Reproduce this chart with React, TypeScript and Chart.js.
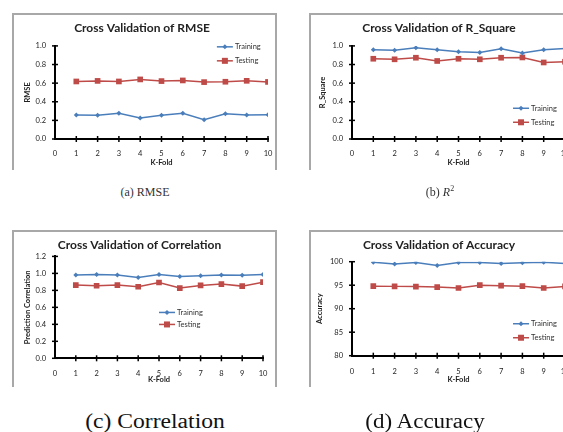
import { useEffect, useRef } from "react";
import { Chart, registerables } from "chart.js";

Chart.register(...registerables);

// ---- data ----
const folds = [1, 2, 3, 4, 5, 6, 7, 8, 9, 10];
const seriesNames = ["Training", "Testing"];

const rmseTraining = [0.258, 0.254, 0.276, 0.225, 0.254, 0.276, 0.208, 0.272, 0.258, 0.26];
const rmseTesting = [0.618, 0.624, 0.618, 0.64, 0.622, 0.629, 0.611, 0.615, 0.625, 0.613];

const r2Training = [0.958, 0.954, 0.98, 0.958, 0.936, 0.928, 0.97, 0.923, 0.958, 0.972];
const r2Testing = [0.862, 0.856, 0.873, 0.838, 0.862, 0.856, 0.873, 0.876, 0.822, 0.83];

const corrTraining = [0.98, 0.986, 0.98, 0.952, 0.988, 0.962, 0.972, 0.982, 0.978, 0.988];
const corrTesting = [0.862, 0.854, 0.862, 0.843, 0.893, 0.827, 0.858, 0.874, 0.85, 0.897];

const accTraining = [99.9, 99.5, 99.85, 99.2, 99.85, 99.85, 99.6, 99.8, 99.9, 99.6];
const accTesting = [94.8, 94.75, 94.7, 94.6, 94.4, 95.0, 94.9, 94.8, 94.4, 94.75];

const titles = [
  "Cross Validation of RMSE",
  "Cross Validation of R_Square",
  "Cross Validation of Correlation",
  "Cross Validation of Accuracy",
];
const yTitles = ["RMSE", "R_Square", "Prediction Correlation", "Accuracy"];
const xTitle = "K-Fold";

const TRAIN_COLOR = "#4A7EBB";
const TEST_COLOR = "#BE4B48";
const FONT = "Lato";

// ---- plugins ----
const crossTicks = {
  id: "crossTicks",
  beforeDatasetsDraw(chart: any) {
    const { ctx, chartArea, scales } = chart;
    const x = scales.x;
    const y = scales.y;
    ctx.save();
    ctx.strokeStyle = "#000";
    ctx.lineWidth = 1.5;
    y.ticks.forEach((t: any) => {
      const py = y.getPixelForValue(t.value);
      ctx.beginPath();
      ctx.moveTo(chartArea.left - 3, py);
      ctx.lineTo(chartArea.left + 3, py);
      ctx.stroke();
    });
    x.ticks.forEach((t: any) => {
      if (t.value === 0) return;
      const px = x.getPixelForValue(t.value);
      ctx.beginPath();
      ctx.moveTo(px, chartArea.bottom - 3);
      ctx.lineTo(px, chartArea.bottom + 3);
      ctx.stroke();
    });
    ctx.restore();
  },
};

function drawMarker(ctx: CanvasRenderingContext2D, style: string, x: number, y: number, r: number) {
  ctx.beginPath();
  if (style === "rectRot") {
    ctx.moveTo(x, y - r);
    ctx.lineTo(x + r, y);
    ctx.lineTo(x, y + r);
    ctx.lineTo(x - r, y);
    ctx.closePath();
  } else {
    ctx.rect(x - r * 0.75, y - r * 0.75, r * 1.5, r * 1.5);
  }
  ctx.fill();
}

const innerLegend = {
  id: "innerLegend",
  afterDatasetsDraw(chart: any, _args: any, opts: any) {
    const { ctx, chartArea } = chart;
    const x0 = chartArea.left + opts.fx * (chartArea.right - chartArea.left);
    const y0 = chartArea.top + opts.fy * (chartArea.bottom - chartArea.top);
    ctx.save();
    chart.data.datasets.forEach((ds: any, i: number) => {
      const yy = y0 + i * opts.gap;
      ctx.strokeStyle = ds.borderColor;
      ctx.fillStyle = ds.borderColor;
      ctx.lineWidth = 1.5;
      ctx.beginPath();
      ctx.moveTo(x0, yy);
      ctx.lineTo(x0 + 16, yy);
      ctx.stroke();
      drawMarker(ctx, ds.pointStyle, x0 + 8, yy, ds.pointRadius);
      ctx.fillStyle = "#333";
      ctx.font = `7.5px ${FONT}`;
      ctx.textBaseline = "middle";
      ctx.textAlign = "left";
      ctx.fillText(ds.label, x0 + 18, yy);
    });
    ctx.restore();
  },
};

// ---- panels ----
type PanelCfg = {
  left: number;
  top: number;
  title: string;
  yTitle: string;
  yMin: number;
  yMax: number;
  yStep: number;
  decimals: number;
  train: number[];
  test: number[];
  legend: { fx: number; fy: number; gap: number };
  pad: { left: number; right: number; top: number; bottom: number };
  titlePad: { top: number; bottom: number };
  yWidth: number;
  yTitlePad: number;
  xHeight: number;
  xTickPad: number;
};

const W = 265;
const H = 157;

const panels: PanelCfg[] = [
  {
    left: 12, top: 13, title: titles[0], yTitle: yTitles[0],
    yMin: 0, yMax: 1, yStep: 0.2, decimals: 1,
    train: rmseTraining, test: rmseTesting,
    legend: { fx: 0.76, fy: 0.01, gap: 14 },
    pad: { left: 4, right: 9, top: 0, bottom: 3 },
    titlePad: { top: 7.5, bottom: 11 }, yWidth: 39, yTitlePad: 7.5, xHeight: 28, xTickPad: 10.5,
  },
  {
    left: 309, top: 13, title: titles[1], yTitle: yTitles[1],
    yMin: 0, yMax: 1, yStep: 0.2, decimals: 1,
    train: r2Training, test: r2Testing,
    legend: { fx: 0.756, fy: 0.67, gap: 14 },
    pad: { left: 4, right: 9, top: 0, bottom: 3 },
    titlePad: { top: 7.5, bottom: 11 }, yWidth: 39, yTitlePad: 5.5, xHeight: 28, xTickPad: 10.5,
  },
  {
    left: 12, top: 230, title: titles[2], yTitle: yTitles[2],
    yMin: 0, yMax: 1.2, yStep: 0.2, decimals: 1,
    train: corrTraining, test: corrTesting,
    legend: { fx: 0.5, fy: 0.55, gap: 12 },
    pad: { left: 4, right: 14, top: 0, bottom: 3 },
    titlePad: { top: 8, bottom: 4 }, yWidth: 39, yTitlePad: 7.5, xHeight: 25.7, xTickPad: 10.5,
  },
  {
    left: 309, top: 230, title: titles[3], yTitle: yTitles[3],
    yMin: 80, yMax: 100, yStep: 5, decimals: 0,
    train: accTraining, test: accTesting,
    legend: { fx: 0.756, fy: 0.66, gap: 14 },
    pad: { left: 4, right: 9, top: 0, bottom: 3.3 },
    titlePad: { top: 7.8, bottom: 9.5 }, yWidth: 39, yTitlePad: 2.5, xHeight: 28, xTickPad: 11.5,
  },
];

function Panel({ cfg }: { cfg: PanelCfg }) {
  const ref = useRef<HTMLCanvasElement | null>(null);
  useEffect(() => {
    if (!ref.current) return;
    const tickFont = { family: FONT, size: 7.5 };
    const chart = new Chart(ref.current, {
      type: "line",
      data: {
        datasets: [
          {
            label: seriesNames[0],
            data: folds.map((f, i) => ({ x: f, y: cfg.train[i] })),
            borderColor: TRAIN_COLOR,
            backgroundColor: TRAIN_COLOR,
            borderWidth: 1.5,
            pointStyle: "rectRot",
            pointRadius: 2.5,
            pointBorderWidth: 0,
            tension: 0,
          },
          {
            label: seriesNames[1],
            data: folds.map((f, i) => ({ x: f, y: cfg.test[i] })),
            borderColor: TEST_COLOR,
            backgroundColor: TEST_COLOR,
            borderWidth: 1.5,
            pointStyle: "rect",
            pointRadius: 4,
            pointBorderWidth: 0,
            tension: 0,
          },
        ],
      },
      options: {
        animation: false,
        responsive: false,
        events: [],
        layout: { padding: cfg.pad },
        plugins: {
          legend: { display: false },
          tooltip: { enabled: false },
          title: {
            display: true,
            text: cfg.title,
            color: "#222",
            font: { family: FONT, size: 12, weight: "bold" },
            padding: cfg.titlePad,
          },
          innerLegend: cfg.legend,
        } as any,
        scales: {
          x: {
            type: "linear",
            min: 0,
            max: 10,
            grid: { display: false, drawTicks: false },
            border: { display: true, color: "#000", width: 2 },
            ticks: { stepSize: 1, color: "#222", font: tickFont, padding: cfg.xTickPad, maxRotation: 0 },
            title: {
              display: true,
              text: xTitle,
              color: "#222",
              font: { family: FONT, size: 7.5, weight: "bold" },
              padding: 0,
            },
            afterFit: (s: any) => {
              s.height = cfg.xHeight;
              s.paddingLeft = 0;
              s.paddingRight = 0;
            },
          },
          y: {
            type: "linear",
            min: cfg.yMin,
            max: cfg.yMax,
            grid: { display: false, drawTicks: false },
            border: { display: true, color: "#000", width: 2 },
            ticks: {
              stepSize: cfg.yStep,
              color: "#222",
              font: tickFont,
              padding: 9,
              callback: (v: any) => Number(v).toFixed(cfg.decimals),
            },
            title: {
              display: true,
              text: cfg.yTitle,
              color: "#222",
              font: { family: FONT, size: 7.5, weight: "bold" },
              padding: { top: cfg.yTitlePad, bottom: 0 },
            },
            afterFit: (s: any) => {
              s.width = cfg.yWidth;
            },
          },
        },
      },
      plugins: [crossTicks, innerLegend],
    } as any);
    return () => chart.destroy();
  }, [cfg]);

  return (
    <>
      <canvas
        ref={ref}
        width={W}
        height={H}
        style={{ position: "absolute", left: cfg.left, top: cfg.top, width: W, height: H }}
      />
      <div
        style={{
          position: "absolute",
          left: cfg.left,
          top: cfg.top,
          width: W,
          height: H,
          boxSizing: "border-box",
          borderTop: "2px solid #a8a8a8",
          borderLeft: "2px solid #a8a8a8",
          borderRight: "2px solid #a8a8a8",
          pointerEvents: "none",
        }}
      />
    </>
  );
}

const serif = "'Liberation Serif', 'Times New Roman', serif";

export default function App() {
  return (
    <div
      style={{
        position: "absolute",
        left: 0,
        top: 0,
        width: 563,
        height: 432,
        overflow: "hidden",
        background: "#fff",
      }}
    >
      {panels.map((p, i) => (
        <Panel key={i} cfg={p} />
      ))}
      <div style={{ position: "absolute", left: 45, width: 200, top: 185, textAlign: "center", fontFamily: serif, fontSize: 12, color: "#333", lineHeight: "14px" }}>
        (a) RMSE
      </div>
      <div style={{ position: "absolute", left: 340, width: 200, top: 185, textAlign: "center", fontFamily: serif, fontSize: 12, color: "#333", lineHeight: "14px" }}>
        (b) <i>R</i>
        <sup style={{ fontSize: 8, lineHeight: 0 }}>2</sup>
      </div>
      <div style={{ position: "absolute", left: 55, width: 200, top: 409, textAlign: "center", fontFamily: serif, fontSize: 20, color: "#111", lineHeight: "24px", transform: "scaleX(1.18)", transformOrigin: "center" }}>
        (c) Correlation
      </div>
      <div style={{ position: "absolute", left: 325, width: 200, top: 409, textAlign: "center", fontFamily: serif, fontSize: 20, color: "#111", lineHeight: "24px", transform: "scaleX(1.15)", transformOrigin: "center" }}>
        (d) Accuracy
      </div>
    </div>
  );
}
